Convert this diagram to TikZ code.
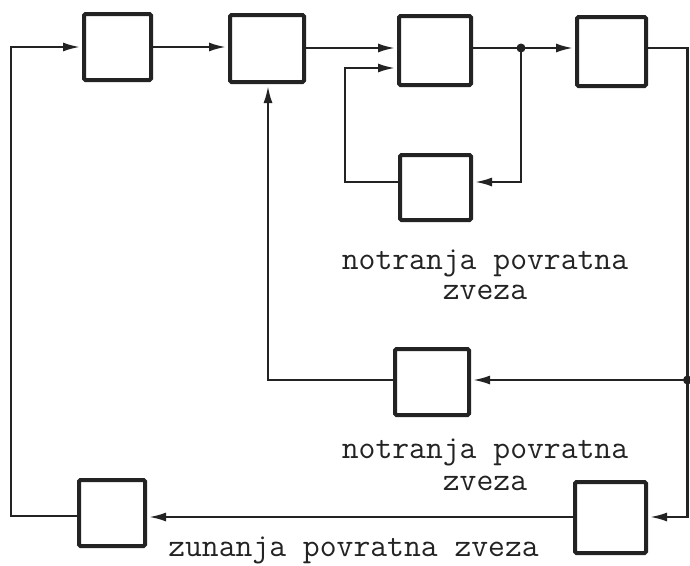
\documentclass[tikz,border=0pt]{standalone}
\usepackage{fontspec}
\usetikzlibrary{arrows.meta}
\definecolor{ink}{RGB}{35,35,35}
\begin{document}
\begin{tikzpicture}[x=1pt,y=-1pt,
  blk/.style={draw=ink, line width=4pt, rounded corners=1.5pt, inner sep=0pt, fill=white},
  conn/.style={draw=ink, line width=2.2pt},
  arr/.style={-{Latex[length=17pt,width=9pt]}, shorten >=2pt},
  lbl/.style={text=ink, inner sep=0pt, font=\fontsize{32.7}{32}\selectfont\ttfamily}]
\useasboundingbox (0,0) rectangle (690,565);
% blocks
\node[blk, minimum width=67pt, minimum height=66pt] (B1) at (117.5,47) {};
\node[blk, minimum width=74pt, minimum height=67pt] (B2) at (267,48.5) {};
\node[blk, minimum width=72pt, minimum height=69pt] (B3) at (435,50.5) {};
\node[blk, minimum width=69pt, minimum height=69pt] (B4) at (611.5,51.5) {};
\node[blk, minimum width=71pt, minimum height=65pt] (B5) at (435.5,187.5) {};
\node[blk, minimum width=74pt, minimum height=66pt] (B6) at (432,382) {};
\node[blk, minimum width=66pt, minimum height=66pt] (B7) at (112,513) {};
\node[blk, minimum width=71pt, minimum height=71pt] (B8) at (610.5,517.5) {};
% coordinates
\coordinate (J1) at (521,48);
\coordinate (J2) at (687.5,380);
\coordinate (TR) at (687.5,48);
\coordinate (BR) at (687.5,517);
\coordinate (BL) at (11,516);
\coordinate (TL) at (11,47);
\coordinate (I5) at (521,182);
\coordinate (O5) at (345,182);
\coordinate (O3) at (345,68);
\coordinate (O6) at (268,380);
% connectors
\draw[conn,arr] (B7.west |- BL) -- (BL) -- (TL) -- (B1.west);
\draw[conn,arr] (B1.east) -- (B1.east -| B2.west);
\draw[conn,arr] (B2.east |- J1) -- (B3.west |- J1);
\draw[conn] (B3.east |- J1) -- (J1);
\draw[conn,arr] (J1) -- (B4.west |- J1);
\draw[conn,arr] (J1) -- (I5) -- (B5.east |- I5);
\draw[conn,arr] (B5.west |- I5) -- (O5) -- (O3) -- (B3.west |- O3);
\draw[conn,arr] (B4.east |- TR) -- (TR) -- (BR) -- (B8.east |- BR);
\draw[conn,arr] (J2) -- (B6.east |- J2);
\draw[conn,arr] (B6.west |- J2) -- (O6) -- (O6 |- B2.south);
\draw[conn,arr] (B8.west |- BR) -- (B7.east |- BR);
\fill[ink] (J1) circle (4.5pt);
\fill[ink] (J2) circle (4.5pt);
% labels
\node[lbl, anchor=base] (t1a) at (485,269) {notranja povratna};
\node[lbl, anchor=base] (t1b) at (485,299) {zveza};
\node[lbl, anchor=base] (t2a) at (485,458) {notranja povratna};
\node[lbl, anchor=base] (t2b) at (485,490) {zveza};
\node[lbl, anchor=base] (t3) at (353.5,556) {zunanja povratna zveza};
\end{tikzpicture}
\end{document}
